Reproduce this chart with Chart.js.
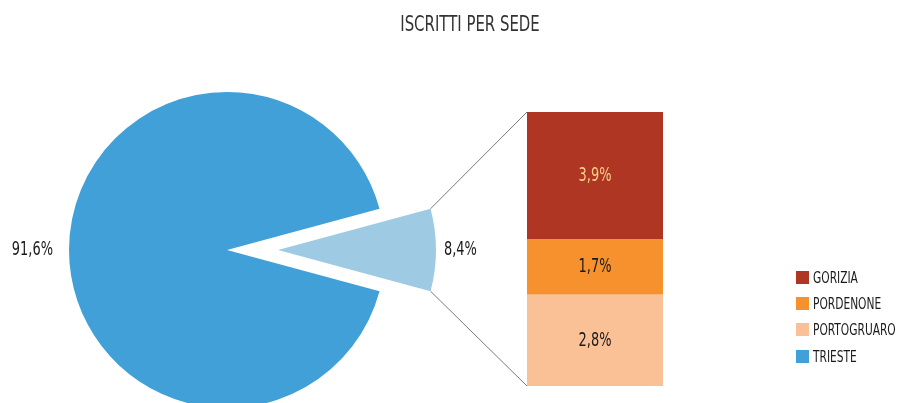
<!DOCTYPE html>
<html>
<head>
<meta charset="utf-8">
<script src="https://cdn.jsdelivr.net/npm/chart.js@4.4.1/dist/chart.umd.min.js"></script>
<style>
    html, body { margin: 0; padding: 0; background: #fff; }
    #wrap { position: relative; width: 900px; height: 403px; overflow: hidden; font-family: "Liberation Sans Narrow", "DejaVu Sans Condensed", sans-serif; }
    #pieChart { position: absolute; left: 0; top: 0; }
    #barChart { position: absolute; left: 527px; top: 112px; }
    #title { position: absolute; left: 320px; top: 12px; width: 300px; text-align: center; font-size: 21px; line-height: 24px; color: #333; transform: scaleX(0.79); }
    #legend { position: absolute; left: 796px; top: 264px; }
    .item { display: flex; align-items: center; height: 26.3px; }
    .box { width: 13px; height: 13px; margin-right: 4px; }
    .txt { font-size: 16px; color: #1a1a1a; transform: scaleX(0.74); transform-origin: left center; white-space: nowrap; }
</style>
</head>
<body>
<div id="wrap">
    <canvas id="pieChart" width="900" height="403"></canvas>
    <canvas id="barChart" width="136" height="274"></canvas>
    <div id="title"></div>
    <div id="legend"></div>
</div>
<script>
const titleText = "ISCRITTI PER SEDE";
const pieLabels = ["TRIESTE", "ALTRE SEDI"];
const pieValues = [91.6, 8.4];
const pieColors = ["#42a0d8", "#9fcae3"];
const barLabels = ["GORIZIA", "PORDENONE", "PORTOGRUARO"];
const barValues = [3.9, 1.7, 2.8];
const barColors = ["#b03624", "#f6912e", "#fac197"];
const barTextColors = ["#f4d088", "#1a1a1a", "#1a1a1a"];

const FONT = '"Liberation Sans Narrow", "DejaVu Sans Condensed", sans-serif';
const fmtPct = v => v.toFixed(1).replace(".", ",") + "%";

document.getElementById("title").textContent = titleText;

// legend: bar categories first, then the main slice
const legendEl = document.getElementById("legend");
barLabels.map((l, i) => [l, barColors[i]]).concat([[pieLabels[0], pieColors[0]]]).forEach(([label, color]) => {
    const row = document.createElement("div");
    row.className = "item";
    row.innerHTML = '<div class="box" style="background:' + color + '"></div><div class="txt">' + label + '</div>';
    legendEl.appendChild(row);
});

function drawText(ctx, text, x, y, align, color) {
    ctx.save();
    ctx.translate(x, y);
    ctx.scale(0.72, 1);
    ctx.font = "20px " + FONT;
    ctx.fillStyle = color;
    ctx.textAlign = align;
    ctx.textBaseline = "middle";
    ctx.fillText(text, 0, 0);
    ctx.restore();
}

// stacked bar: first dataset sits at the bottom, so reverse
const barOrder = barLabels.map((_, i) => i).reverse();
const barChart = new Chart(document.getElementById("barChart"), {
    type: "bar",
    data: {
        labels: [""],
        datasets: barOrder.map(i => ({
            label: barLabels[i],
            data: [barValues[i]],
            backgroundColor: barColors[i],
            borderWidth: 0,
            barPercentage: 1,
            categoryPercentage: 1
        }))
    },
    options: {
        responsive: false,
        animation: false,
        layout: { padding: 0 },
        scales: {
            x: { display: false, stacked: true },
            y: { display: false, stacked: true, min: 0, max: barValues.reduce((a, b) => a + b, 0) }
        },
        plugins: { legend: { display: false }, tooltip: { enabled: false } }
    },
    plugins: [{
        id: "barLabels",
        afterDatasetsDraw(chart) {
            chart.data.datasets.forEach((ds, d) => {
                const el = chart.getDatasetMeta(d).data[0];
                const i = barOrder[d];
                drawText(chart.ctx, fmtPct(barValues[i]), el.x, (el.y + el.base) / 2, "center", barTextColors[i]);
            });
        }
    }]
});

const explodeDist = [0, 51];
const total = pieValues.reduce((a, b) => a + b, 0);

new Chart(document.getElementById("pieChart"), {
    type: "pie",
    data: {
        labels: pieLabels,
        datasets: [{
            data: pieValues,
            backgroundColor: pieColors,
            borderWidth: 0,
            clip: false
        }]
    },
    options: {
        responsive: false,
        animation: false,
        radius: 158,
        rotation: 90 - (pieValues[0] + pieValues[1] / 2) / total * 360,
        layout: { padding: { left: 0, right: 446, top: 97, bottom: 0 } },
        plugins: { legend: { display: false }, tooltip: { enabled: false } }
    },
    plugins: [{
        id: "explode",
        afterDatasetUpdate(chart, args) {
            args.meta.data.forEach((arc, i) => {
                const d = explodeDist[i] || 0;
                const mid = (arc.startAngle + arc.endAngle) / 2;
                arc.x += d * Math.cos(mid);
                arc.y += d * Math.sin(mid);
            });
        },
        afterDatasetsDraw(chart) {
            const ctx = chart.ctx;
            const arcs = chart.getDatasetMeta(0).data;
            arcs.forEach((arc, i) => {
                const mid = (arc.startAngle + arc.endAngle) / 2;
                const right = Math.cos(mid) >= 0;
                const r = arc.outerRadius + (right ? 8 : 16);
                drawText(ctx, fmtPct(pieValues[i]), arc.x + r * Math.cos(mid), arc.y + r * Math.sin(mid), right ? "left" : "right", "#1a1a1a");
            });
            // connector lines from the exploded slice to the bar
            const small = arcs[1];
            const R = small.outerRadius;
            const bc = barChart.canvas;
            const area = barChart.chartArea;
            const bx = bc.offsetLeft + area.left;
            ctx.save();
            ctx.strokeStyle = "#7a7a7a";
            ctx.lineWidth = 1;
            ctx.beginPath();
            ctx.moveTo(small.x + R * Math.cos(small.startAngle), small.y + R * Math.sin(small.startAngle));
            ctx.lineTo(bx, bc.offsetTop + area.top);
            ctx.moveTo(small.x + R * Math.cos(small.endAngle), small.y + R * Math.sin(small.endAngle));
            ctx.lineTo(bx, bc.offsetTop + area.bottom);
            ctx.stroke();
            ctx.restore();
        }
    }]
});
</script>
</body>
</html>
